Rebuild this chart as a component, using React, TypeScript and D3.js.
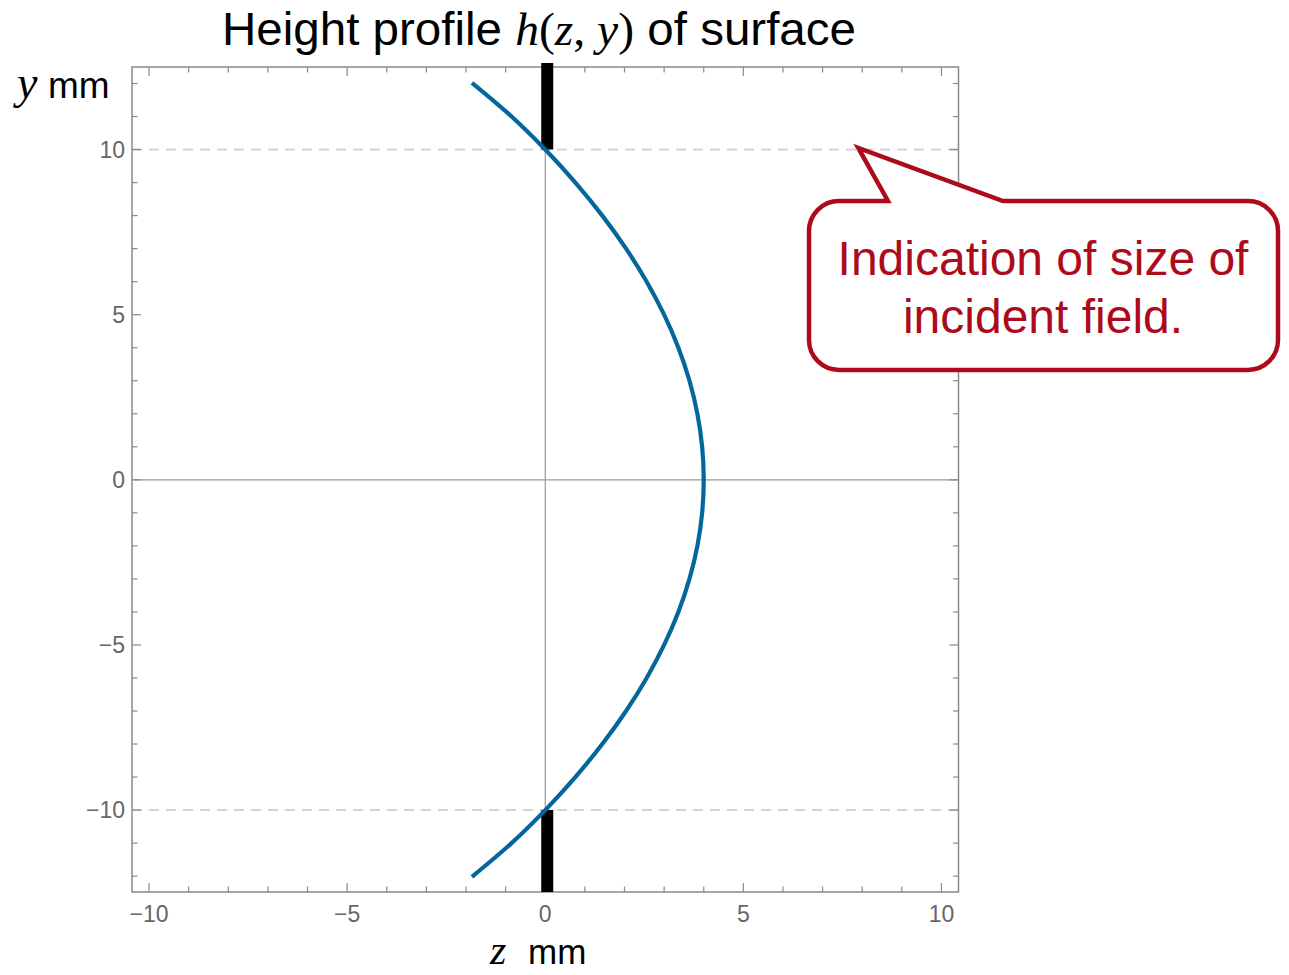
import React from "react";
import * as d3 from "d3";

// ---- data ----
const profileY = [12.02, 11, 10, 9, 8, 7, 6, 5, 4, 3, 2, 1, 0, -1, -2, -3, -4, -5, -6, -7, -8, -9, -10, -11, -12.02];
const profileZ = [-1.85, -0.85, 0, 0.76, 1.44, 2.04, 2.56, 3.0, 3.36, 3.64, 3.84, 3.96, 4.0, 3.96, 3.84, 3.64, 3.36, 3.0, 2.56, 2.04, 1.44, 0.76, 0, -0.85, -1.85];
const xTicks = [-10, -5, 0, 5, 10];
const yTicks = [-10, -5, 0, 5, 10];
const xMinor = [-10, -9, -8, -7, -6, -5, -4, -3, -2, -1, 0, 1, 2, 3, 4, 5, 6, 7, 8, 9, 10];
const yMinor = [-12, -11, -10, -9, -8, -7, -6, -5, -4, -3, -2, -1, 0, 1, 2, 3, 4, 5, 6, 7, 8, 9, 10, 11, 12];
const fieldLines = [10, -10];
const fieldBars = [
  { z: 0.05, y0: 10, y1: 12.62 },
  { z: 0.05, y0: -12.48, y1: -10 },
];
const calloutLines = ["Indication of size of", "incident field."];
const fmt = (v: number) => (v < 0 ? "\u2212" + Math.abs(v) : String(v));

export default function App() {
  const W = 1289;
  const H = 975;
  const left = 132, right = 958.5, top = 67, bottom = 892;
  const x = d3.scaleLinear().domain([-10.43, 10.43]).range([left, right]);
  const y = d3.scaleLinear().domain([-12.48, 12.5]).range([bottom, top]);

  const pts = profileY.map((yy, i) => [profileZ[i], yy] as [number, number]);
  const line = d3
    .line<[number, number]>()
    .x((d) => x(d[0]))
    .y((d) => y(d[1]))
    .curve(d3.curveCatmullRom.alpha(0.5));

  const frameCol = "#8a8a8a";
  const tickCol = "#8a8a8a";
  const labelCol = "#666666";
  const red = "#ad0a1c";
  const sans = "'Liberation Sans', Arial, Helvetica, sans-serif";
  const serif = "'Liberation Serif', 'DejaVu Serif', serif";

  // callout geometry
  const bx0 = 809, bx1 = 1278, by0 = 201, by1 = 370, r = 30;
  const tip = [x(7.9), y(10.05)];
  const pL = 888, pR = 1003;
  const callout =
    `M${pL},${by0} L${tip[0]},${tip[1]} L${pR},${by0} L${bx1 - r},${by0} ` +
    `A${r},${r} 0 0 1 ${bx1},${by0 + r} L${bx1},${by1 - r} ` +
    `A${r},${r} 0 0 1 ${bx1 - r},${by1} L${bx0 + r},${by1} ` +
    `A${r},${r} 0 0 1 ${bx0},${by1 - r} L${bx0},${by0 + r} ` +
    `A${r},${r} 0 0 1 ${bx0 + r},${by0} Z`;

  return (
    <svg width={W} height={H} style={{ position: "absolute", left: 0, top: 0, background: "#fff" }}>
      {/* title */}
      <text x={222} y={45} fontSize={47} fontFamily={sans} fill="#000" textLength={634} lengthAdjust="spacingAndGlyphs">
        Height profile{" "}
        <tspan fontFamily={serif} fontStyle="italic">h</tspan>
        <tspan fontFamily={serif}>(</tspan>
        <tspan fontFamily={serif} fontStyle="italic">z</tspan>
        <tspan fontFamily={serif}>, </tspan>
        <tspan fontFamily={serif} fontStyle="italic">y</tspan>
        <tspan fontFamily={serif}>)</tspan>
        {" "}of surface
      </text>

      {/* dashed field lines */}
      {fieldLines.map((v) => (
        <line key={"f" + v} x1={left} x2={right} y1={y(v)} y2={y(v)} stroke="#d4d4d4" strokeWidth={2} strokeDasharray="10,7" />
      ))}

      {/* axes through origin */}
      <line x1={left} x2={right} y1={y(0)} y2={y(0)} stroke="#9a9a9a" strokeWidth={1.2} />
      <line x1={x(0)} x2={x(0)} y1={top} y2={bottom} stroke="#9a9a9a" strokeWidth={1.2} />

      {/* frame */}
      <rect x={left} y={top} width={right - left} height={bottom - top} fill="none" stroke={frameCol} strokeWidth={1.5} />

      {/* ticks */}
      {xMinor.map((v) => {
        const len = v % 5 === 0 ? 9 : 5.5;
        return (
          <g key={"xt" + v}>
            <line x1={x(v)} x2={x(v)} y1={bottom} y2={bottom - len} stroke={tickCol} strokeWidth={1.2} />
            <line x1={x(v)} x2={x(v)} y1={top} y2={top + len} stroke={tickCol} strokeWidth={1.2} />
          </g>
        );
      })}
      {yMinor.map((v) => {
        const len = v % 5 === 0 ? 9 : 5.5;
        return (
          <g key={"yt" + v}>
            <line x1={left} x2={left + len} y1={y(v)} y2={y(v)} stroke={tickCol} strokeWidth={1.2} />
            <line x1={right} x2={right - len} y1={y(v)} y2={y(v)} stroke={tickCol} strokeWidth={1.2} />
          </g>
        );
      })}

      {/* tick labels */}
      {xTicks.map((v) => (
        <text key={"xl" + v} x={x(v)} y={922} textAnchor="middle" fontSize={23} fontFamily={sans} fill={labelCol}>
          {fmt(v)}
        </text>
      ))}
      {yTicks.map((v) => (
        <text key={"yl" + v} x={125} y={y(v) + 8} textAnchor="end" fontSize={23} fontFamily={sans} fill={labelCol}>
          {fmt(v)}
        </text>
      ))}

      {/* field bars */}
      {fieldBars.map((b, i) => (
        <line key={"b" + i} x1={x(b.z)} x2={x(b.z)} y1={y(b.y0)} y2={y(b.y1)} stroke="#000" strokeWidth={12} />
      ))}

      {/* profile curve */}
      <path d={line(pts) || ""} fill="none" stroke="#04679b" strokeWidth={4.2} />

      {/* axis labels */}
      <text x={17} y={98} fontSize={37} fontFamily={sans} fill="#000">
        <tspan fontFamily={serif} fontStyle="italic" fontSize={46}>y</tspan>
        <tspan x={48}>mm</tspan>
      </text>
      <text x={490} y={964} fontSize={35} fontFamily={sans} fill="#000">
        <tspan fontFamily={serif} fontStyle="italic" fontSize={42}>z</tspan>
        <tspan x={528}>mm</tspan>
      </text>

      {/* callout */}
      <path d={callout} fill="#fff" stroke={red} strokeWidth={4.5} strokeLinejoin="miter" />
      {calloutLines.map((t, i) => (
        <text key={"c" + i} x={1043} y={275 + i * 58} textAnchor="middle" fontSize={48} fontFamily={sans} fill={red}>
          {t}
        </text>
      ))}
    </svg>
  );
}
